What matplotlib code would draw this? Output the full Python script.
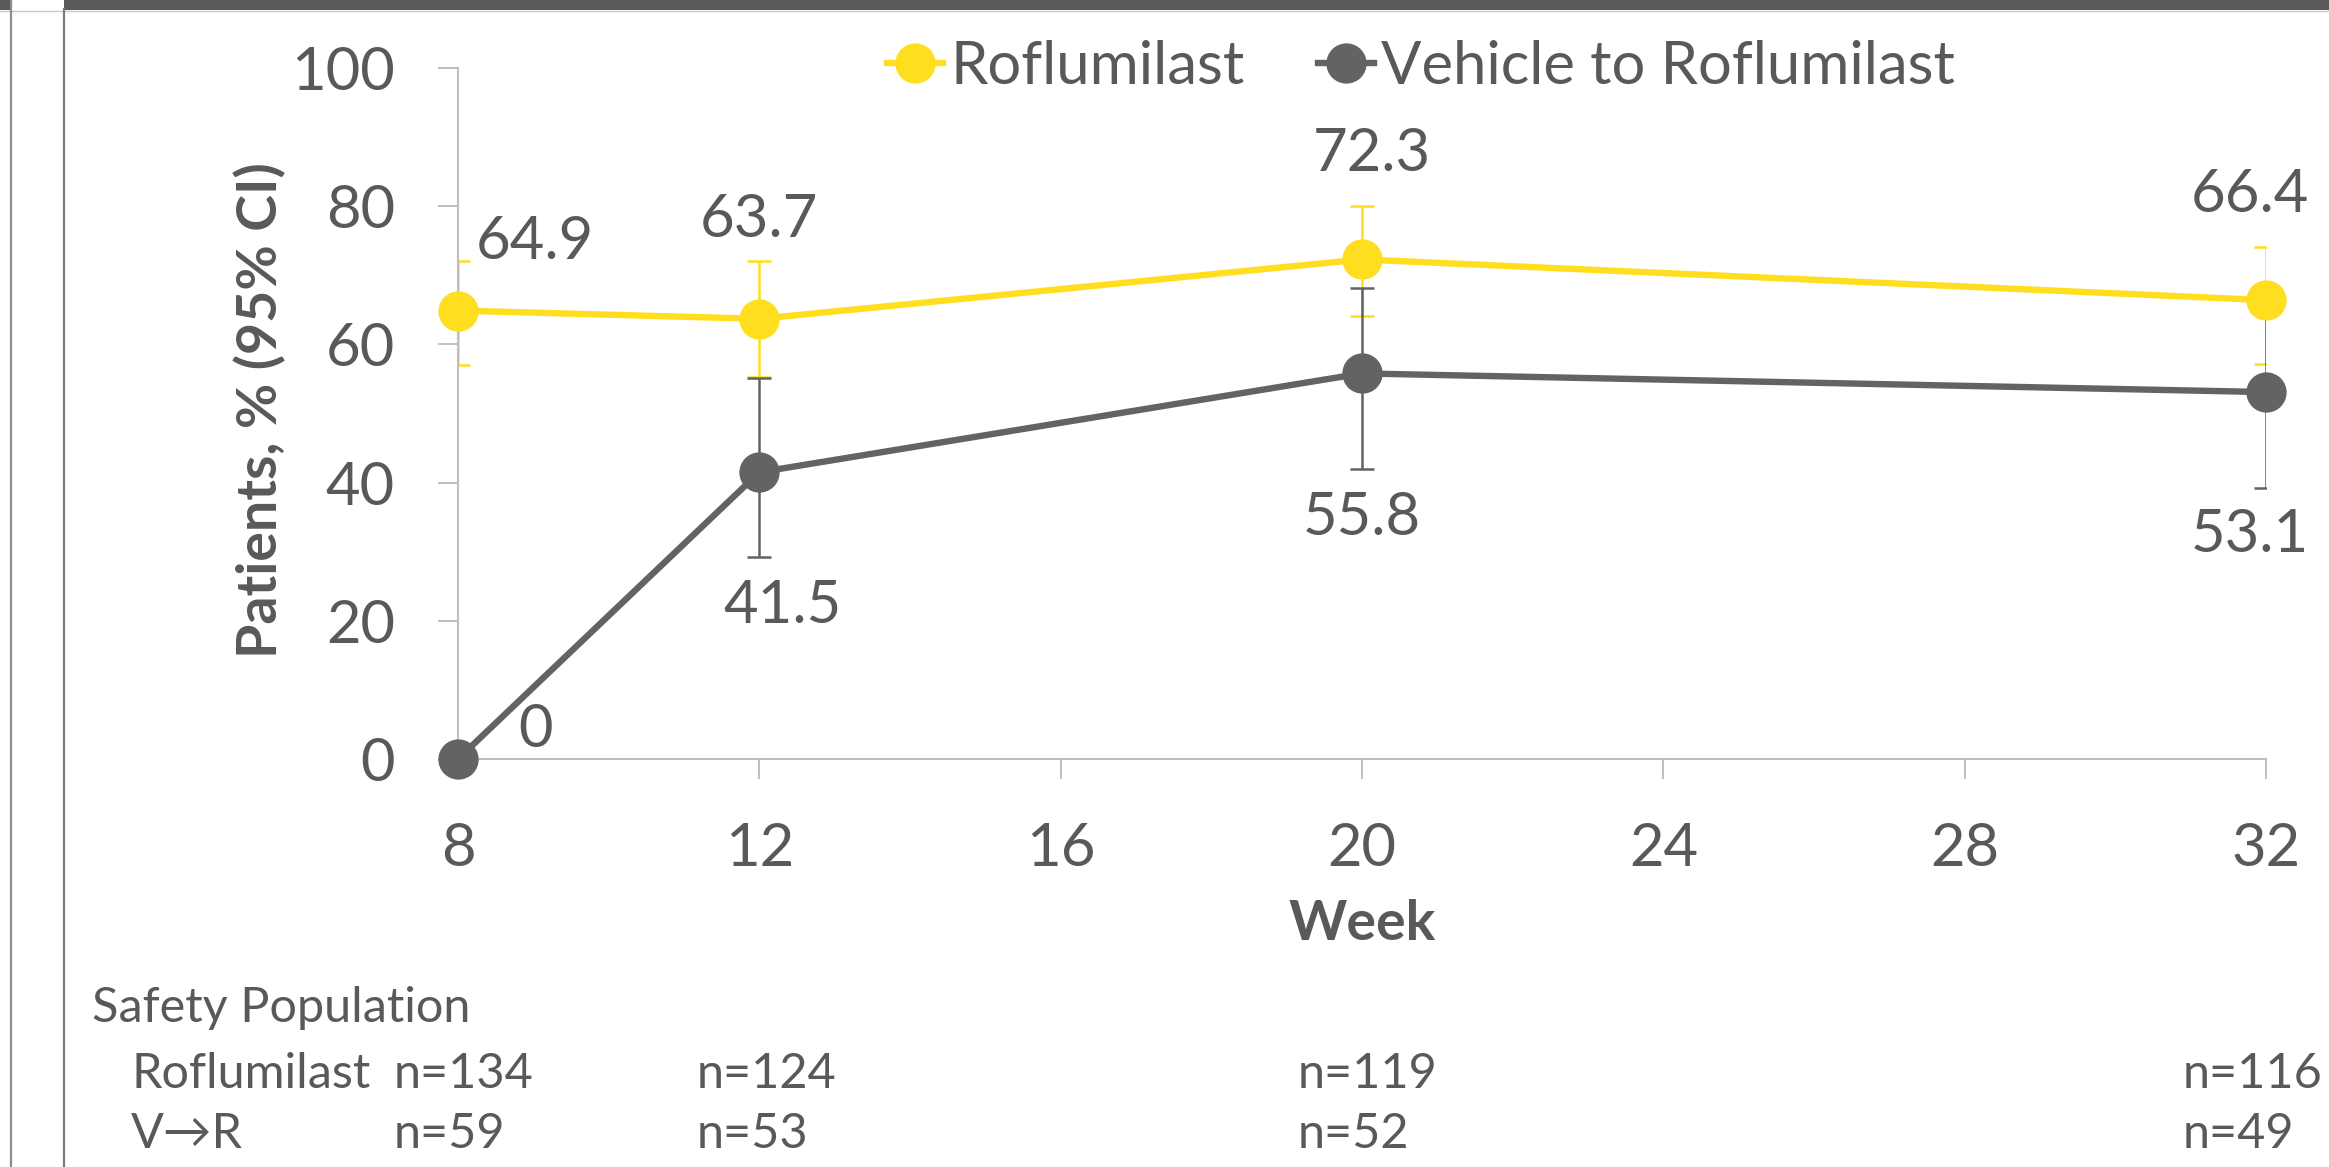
import matplotlib
matplotlib.use("Agg")
import matplotlib.pyplot as plt
from matplotlib.lines import Line2D
from matplotlib.patches import Rectangle
from matplotlib import transforms

plt.rcParams['font.family'] = ['Lato', 'DejaVu Sans']

# данные
weeks = [8, 12, 20, 32]
rof = [64.9, 63.7, 72.3, 66.4]
rof_lo = [57.0, 55.3, 64.1, 57.2]
rof_hi = [72.0, 72.0, 80.0, 74.1]
veh = [0, 41.5, 55.8, 53.1]
veh_lo = [0, 29.2, 42.0, 39.2]
veh_hi = [0, 55.1, 68.2, 67.0]
rof_n = ["n=134", "n=124", "n=119", "n=116"]
veh_n = ["n=59", "n=53", "n=52", "n=49"]
xticks = [8, 12, 16, 20, 24, 28, 32]
yticks = [0, 20, 40, 60, 80, 100]

# подписи значений: смещения в точках
rof_off = [(55, 49), (0, 71), (7, 76), (-11.5, 76)]
veh_off = [(56, 21), (17, -96), (0, -104), (-11.5, -103)]
n_x = [7.15, 11.17, 19.14, 30.89]

YEL = '#FFDD1F'
GRY = '#636363'
TXT = '#595959'
AXC = '#BFBFBF'

W, H = 2329, 1167
fig = plt.figure(figsize=(W / 100, H / 100), dpi=100)
ax = fig.add_axes([458 / W, 1 - 759 / H, (2266 - 458) / W, (759 - 68) / H])

# рамка слайда
fig.add_artist(Rectangle((64 / W, 1 - 9.5 / H), 1, 9.5 / H, transform=fig.transFigure,
                         color='#595959', lw=0))
fig.add_artist(Rectangle((0, 1 - 9.5 / H), 11 / W, 9.5 / H, transform=fig.transFigure,
                         color='#595959', lw=0))
fig.add_artist(Line2D([0, 1], [1 - 10.5 / H] * 2, transform=fig.transFigure,
                      color='#C8C8C8', lw=1))
fig.add_artist(Line2D([11 / W] * 2, [0, 1], transform=fig.transFigure,
                      color='#8C8C8C', lw=1.6))
fig.add_artist(Line2D([64 / W] * 2, [0, 1 - 9 / H], transform=fig.transFigure,
                      color='#7A7A7A', lw=1.6))

# доверительные интервалы
ax.errorbar(weeks, rof, yerr=[[v - l for v, l in zip(rof, rof_lo)],
                              [h - v for v, h in zip(rof, rof_hi)]],
            fmt='none', ecolor=YEL, elinewidth=1.8, capsize=8.5, capthick=1.8, zorder=2)
ax.errorbar(weeks, veh, yerr=[[v - l for v, l in zip(veh, veh_lo)],
                              [h - v for v, h in zip(veh, veh_hi)]],
            fmt='none', ecolor=GRY, elinewidth=1.8, capsize=8.5, capthick=1.8, zorder=3)

ax.plot(weeks, veh, color=GRY, lw=4.6, marker='o', ms=28, clip_on=False, zorder=4,
        label='Vehicle to Roflumilast')
ax.plot(weeks, rof, color=YEL, lw=4.6, marker='o', ms=28, clip_on=False, zorder=5,
        label='Roflumilast')

for x, y, o in zip(weeks, rof, rof_off):
    ax.annotate(f"{y:g}", (x, y), xytext=o, textcoords='offset points',
                ha='center', va='center', fontsize=43, color=TXT, annotation_clip=False)
for x, y, o in zip(weeks, veh, veh_off):
    ax.annotate(f"{y:g}", (x, y), xytext=o, textcoords='offset points',
                ha='center', va='center', fontsize=43, color=TXT, annotation_clip=False)

ax.set_xlim(8, 32)
ax.set_ylim(0, 100)
ax.set_xticks(xticks)
ax.set_yticks(yticks)
for s in ['top', 'right']:
    ax.spines[s].set_visible(False)
for s in ['left', 'bottom']:
    ax.spines[s].set_color(AXC)
    ax.spines[s].set_linewidth(1.5)
ax.tick_params(axis='both', length=14.4, width=1.4, color=AXC, labelcolor=TXT,
               labelsize=43, pad=31)

ax.set_xlabel('Week', fontsize=40, fontweight='bold', color=TXT)
ax.set_ylabel('Patients, % (95% CI)', fontsize=40, fontweight='bold', color=TXT)
ax.xaxis.label.set_va('center')
ax.yaxis.label.set_va('center')
ax.xaxis.set_label_coords(0.5, (759 - 924) / 691)
ax.yaxis.set_label_coords((260 - 458) / 1808, (759 - 410) / 691)

h, l = ax.get_legend_handles_labels()
fig.legend(h[::-1], l[::-1], loc='center left', bbox_to_anchor=(887 / W, 1 - 67 / H),
           ncol=2, frameon=False, fontsize=43, labelcolor=TXT, handlelength=0.93,
           handletextpad=0.13, columnspacing=1.23, borderpad=0, borderaxespad=0)

# таблица численности
fig.text(92 / W, 1 - 1022 / H, 'Safety Population', fontsize=35, color=TXT, va='baseline')
fig.text(131 / W, 1 - 1088 / H, 'Roflumilast', fontsize=35, color=TXT, va='baseline')
fig.text(131 / W, 1 - 1148 / H, 'V\u2192R', fontsize=35, color=TXT, va='baseline')
tr = transforms.blended_transform_factory(ax.transData, fig.transFigure)
for x, a, b in zip(n_x, rof_n, veh_n):
    ax.text(x, 1 - 1088 / H, a, transform=tr, fontsize=35, color=TXT, va='baseline',
            clip_on=False)
    ax.text(x, 1 - 1148 / H, b, transform=tr, fontsize=35, color=TXT, va='baseline',
            clip_on=False)

fig.savefig('out.png', dpi=100)
